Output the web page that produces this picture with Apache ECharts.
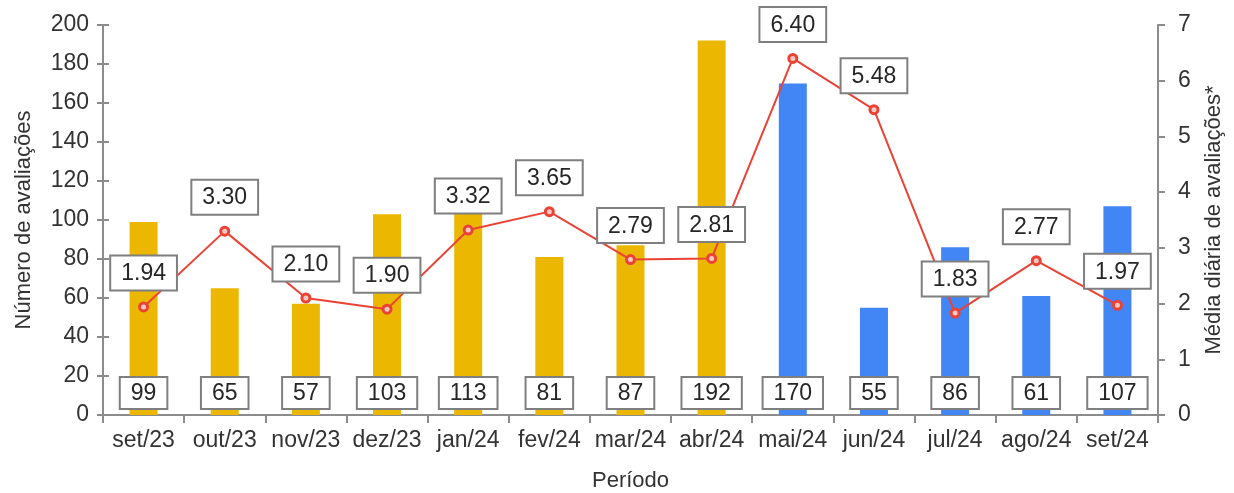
<!DOCTYPE html>
<html>
<head>
<meta charset="utf-8">
<script src="https://cdn.jsdelivr.net/npm/echarts@6/dist/echarts.min.js"></script>
<style>html,body{margin:0;padding:0;background:#fff;}#c{width:1234px;height:493px;}</style>
</head>
<body>
<div id="c"></div>
<script>
const categories = ['set/23','out/23','nov/23','dez/23','jan/24','fev/24','mar/24','abr/24','mai/24','jun/24','jul/24','ago/24','set/24'];
const avaliacoes = [99, 65, 57, 103, 113, 81, 87, 192, 170, 55, 86, 61, 107];
const mediaDiaria = [1.94, 3.30, 2.10, 1.90, 3.32, 3.65, 2.79, 2.81, 6.40, 5.48, 1.83, 2.77, 1.97];
const firstPeriodCount = 8;

const FONT = 'Liberation Sans, Arial, sans-serif';
const TXT = '#333333';
const AX = '#8c8c8c';
const GOLD = '#EBB700';
const BLUE = '#4285F4';
const RED = '#EA4335';
const FS = 23;

const chart = echarts.init(document.getElementById('c'));
chart.setOption({
  animation: false,
  textStyle: { fontFamily: FONT },
  grid: { left: 103, right: 76, top: 25, bottom: 78, outerBoundsMode: 'none', containLabel: false },
  xAxis: {
    type: 'category',
    data: categories,
    name: 'Período',
    nameLocation: 'middle',
    nameGap: 55,
    nameTextStyle: { fontSize: 22, color: TXT, fontFamily: FONT },
    axisLine: { lineStyle: { color: AX, width: 2 } },
    axisTick: { show: true, length: 8, lineStyle: { color: AX, width: 2 } },
    axisLabel: { fontSize: FS, color: TXT, margin: 14, fontFamily: FONT, interval: 0 }
  },
  yAxis: [
    {
      type: 'value', min: 0, max: 200, interval: 20, position: 'left',
      name: 'Número de avaliações', nameLocation: 'middle', nameRotate: 90, nameGap: 68,
      nameTextStyle: { fontSize: 22, color: TXT, fontFamily: FONT },
      splitLine: { show: false },
      axisLine: { show: true, lineStyle: { color: AX, width: 2 } },
      axisTick: { show: true, length: 6, lineStyle: { color: AX, width: 2 } },
      axisLabel: { fontSize: FS, color: TXT, margin: 14, fontFamily: FONT }
    },
    {
      type: 'value', min: 0, max: 7, interval: 1, position: 'right',
      name: 'Média diária de avaliações*', nameLocation: 'middle', nameRotate: 90, nameGap: 45,
      nameTextStyle: { fontSize: 22, color: TXT, fontFamily: FONT },
      splitLine: { show: false },
      axisLine: { show: true, lineStyle: { color: AX, width: 2 } },
      axisTick: { show: true, length: 7, lineStyle: { color: AX, width: 2 } },
      axisLabel: { fontSize: FS, color: TXT, margin: 20, fontFamily: FONT }
    },
    {
      type: 'value', min: 0, max: 200, interval: 20, position: 'left',
      splitLine: { show: false },
      axisLine: { show: false },
      axisTick: { show: true, inside: true, length: 6, lineStyle: { color: AX, width: 2 } },
      axisLabel: { show: false }
    }
  ],
  series: [
    {
      type: 'bar',
      yAxisIndex: 0,
      data: avaliacoes,
      barWidth: 28,
      itemStyle: { color: p => p.dataIndex < firstPeriodCount ? GOLD : BLUE },
      label: {
        show: true, position: 'insideBottom', distance: 7,
        fontSize: FS, color: '#262626', fontFamily: FONT,
        backgroundColor: '#fff', borderColor: '#7f7f7f', borderWidth: 2,
        padding: [4, 10, 3, 10]
      },
      z: 2
    },
    {
      type: 'line',
      yAxisIndex: 1,
      data: mediaDiaria,
      symbol: 'circle',
      symbolSize: 8,
      lineStyle: { color: RED, width: 2 },
      itemStyle: { color: '#f6c9c4', borderColor: RED, borderWidth: 3 },
      label: {
        show: true, position: 'top', distance: 12,
        formatter: p => p.value.toFixed(2),
        fontSize: FS, color: '#262626', fontFamily: FONT,
        backgroundColor: '#fff', borderColor: '#7f7f7f', borderWidth: 2,
        padding: [6, 10, 4, 10]
      },
      z: 5
    }
  ]
});
</script>
</body>
</html>
